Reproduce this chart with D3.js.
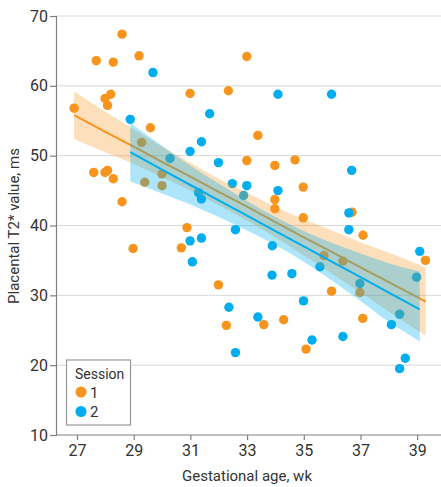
<!DOCTYPE html>
<html>
<head>
<meta charset="utf-8">
<script src="https://cdn.jsdelivr.net/npm/d3@7/dist/d3.min.js"></script>
<style>
  html, body { margin: 0; padding: 0; background: #fff; }
  svg { display: block; font-family: Roboto, "Open Sans", sans-serif; }
</style>
</head>
<body>
<div id="chart"></div>
<script>
// Session 1 measurements (gestational age in weeks, placental T2* in ms)
const session1Age = [26.9, 28.59, 27.68, 28.28, 29.19, 28.19, 27.99, 28.08, 29.59, 27.59,
  27.99, 28.08, 28.28, 28.59, 30.99, 32.34, 30.88, 30.68, 28.98, 29.28,
  29.39, 30.0, 30.0, 31.99, 32.27, 32.99, 33.38, 32.99, 33.98, 34.69,
  34.98, 33.98, 33.98, 34.98, 36.7, 37.09, 39.29, 35.71, 36.38, 36.98,
  35.98, 37.08, 33.59, 34.29, 35.08];
const session1T2 = [56.8, 67.4, 63.6, 63.4, 64.3, 58.8, 58.2, 57.2, 54.0, 47.6,
  47.6, 47.9, 46.7, 43.4, 58.9, 59.3, 39.7, 36.8, 36.7, 51.9,
  46.2, 47.4, 45.7, 31.5, 25.7, 64.2, 52.9, 49.3, 48.6, 49.4,
  45.5, 43.7, 42.4, 41.1, 41.9, 38.6, 35.0, 35.7, 34.9, 30.4,
  30.6, 26.7, 25.8, 26.5, 22.3];

// Session 2 measurements
const session2Age = [28.88, 29.68, 31.68, 31.39, 30.99, 31.99, 30.28, 31.29, 31.39, 30.99,
  31.39, 31.07, 32.36, 34.09, 35.98, 36.69, 32.48, 32.99, 34.09, 32.88,
  36.59, 36.59, 32.59, 33.89, 39.09, 33.88, 34.58, 35.57, 34.99, 33.38,
  32.59, 35.29, 36.38, 36.98, 38.09, 38.38, 38.98, 38.38, 38.58];
const session2T2 = [55.2, 61.9, 56.0, 52.0, 50.6, 49.0, 49.6, 44.7, 43.8, 37.8,
  38.2, 34.8, 28.3, 58.8, 58.8, 47.9, 46.0, 45.7, 45.0, 44.3,
  41.8, 39.4, 39.4, 37.1, 36.3, 32.9, 33.1, 34.1, 29.2, 26.9,
  21.8, 23.6, 24.1, 31.7, 25.8, 27.3, 32.6, 19.5, 21.0];

// Fitted lines with 95% confidence bands
const fit1Age   = [26.9, 28, 29, 30, 31, 32, 33, 34, 35, 36, 37, 38, 39.3];
const fit1Mid   = [55.8, 53.4, 51.3, 49.1, 47.0, 44.8, 42.7, 40.5, 38.3, 36.2, 34.0, 31.9, 29.1];
const fit1Upper = [59.2, 56.3, 53.8, 51.3, 49.0, 46.7, 44.7, 42.7, 40.9, 39.3, 37.6, 36.1, 34.0];
const fit1Lower = [52.4, 50.5, 48.8, 46.9, 45.0, 42.9, 40.7, 38.3, 35.7, 33.1, 30.4, 27.7, 24.2];

const fit2Age   = [28.88, 30, 31, 32, 33, 34, 35, 36, 37, 38, 39.09];
const fit2Mid   = [50.5, 48.0, 45.8, 43.6, 41.4, 39.2, 37.0, 34.8, 32.6, 30.4, 28.0];
const fit2Upper = [54.7, 51.4, 48.6, 46.0, 43.5, 41.2, 39.2, 37.5, 36.0, 34.6, 33.4];
const fit2Lower = [46.3, 44.6, 43.0, 41.2, 39.3, 37.2, 34.8, 32.1, 29.2, 26.2, 23.4];

const xTicks = [27, 29, 31, 33, 35, 37, 39];
const yTicks = [10, 20, 30, 40, 50, 60, 70];
const sessionLabels = ["1", "2"];

const orange = "#f7941d";
const blue = "#00aeef";

const width = 441, height = 487;
const svg = d3.select("#chart").append("svg")
    .attr("width", width)
    .attr("height", height);

const x = d3.scaleLinear().domain([26.26, 39.84]).range([56, 441]);
const y = d3.scaleLinear().domain([10, 70]).range([435, 16]);

// horizontal gridlines
svg.append("g")
    .selectAll("line")
    .data(yTicks.slice(1))
    .join("line")
    .attr("x1", x.range()[0])
    .attr("x2", x.range()[1])
    .attr("y1", d => y(d))
    .attr("y2", d => y(d))
    .attr("stroke", "#d9d9d9")
    .attr("stroke-width", 1);

// axes
const yAxis = svg.append("g")
    .attr("transform", `translate(${x.range()[0]},0)`)
    .call(d3.axisLeft(y).tickValues(yTicks).tickSize(6).tickPadding(2));
const xAxis = svg.append("g")
    .attr("transform", `translate(0,${y(10)})`)
    .call(d3.axisBottom(x).tickValues(xTicks).tickSize(5).tickPadding(5));

[xAxis, yAxis].forEach(g => {
    g.select(".domain").attr("stroke", "#808080").attr("stroke-width", 1.2);
    g.selectAll(".tick line").attr("stroke", "#808080").attr("stroke-width", 1.2);
    g.selectAll(".tick text")
        .attr("fill", "#333")
        .attr("font-size", 16)
        .attr("font-family", "Roboto, sans-serif");
});
// x axis runs to the right edge
xAxis.select(".domain").attr("d", `M${x.range()[0]},0H${width}`);

// points
function drawPoints(ages, values, color) {
    svg.append("g")
        .selectAll("circle")
        .data(ages.map((a, i) => [a, values[i]]))
        .join("circle")
        .attr("cx", d => x(d[0]))
        .attr("cy", d => y(d[1]))
        .attr("r", 4.7)
        .attr("fill", color);
}
drawPoints(session1Age, session1T2, orange);
drawPoints(session2Age, session2T2, blue);

// confidence bands and fit lines
function drawFit(ages, mid, upper, lower, color, opacity) {
    const rows = ages.map((a, i) => ({ a, m: mid[i], u: upper[i], l: lower[i] }));
    svg.append("path")
        .datum(rows)
        .attr("fill", color)
        .attr("fill-opacity", opacity)
        .attr("d", d3.area()
            .curve(d3.curveMonotoneX)
            .x(d => x(d.a))
            .y0(d => y(d.l))
            .y1(d => y(d.u)));
    svg.append("path")
        .datum(rows)
        .attr("fill", "none")
        .attr("stroke", color)
        .attr("stroke-width", 2)
        .attr("d", d3.line()
            .x(d => x(d.a))
            .y(d => y(d.m)));
}
drawFit(fit1Age, fit1Mid, fit1Upper, fit1Lower, orange, 0.3);
drawFit(fit2Age, fit2Mid, fit2Upper, fit2Lower, blue, 0.32);

// axis titles
svg.append("text")
    .attr("x", 247)
    .attr("y", 481)
    .attr("text-anchor", "middle")
    .attr("font-size", 15)
    .attr("fill", "#333")
    .text("Gestational age, wk");

svg.append("text")
    .attr("transform", `translate(19,226) rotate(-90)`)
    .attr("text-anchor", "middle")
    .attr("font-size", 15)
    .attr("fill", "#333")
    .text("Placental T2* value, ms");

// legend
const legend = svg.append("g");
legend.append("rect")
    .attr("x", 66.5)
    .attr("y", 360)
    .attr("width", 64)
    .attr("height", 65)
    .attr("fill", "#fff")
    .attr("stroke", "#999")
    .attr("stroke-width", 1.2);
legend.append("text")
    .attr("x", 75)
    .attr("y", 379)
    .attr("font-size", 14)
    .attr("fill", "#333")
    .text("Session");
[orange, blue].forEach((c, i) => {
    legend.append("circle")
        .attr("cx", 81)
        .attr("cy", 392 + i * 19.5)
        .attr("r", 5.5)
        .attr("fill", c);
    legend.append("text")
        .attr("x", 90)
        .attr("y", 397.5 + i * 19.5)
        .attr("font-size", 15)
        .attr("fill", "#333")
        .text(sessionLabels[i]);
});
</script>
</body>
</html>
